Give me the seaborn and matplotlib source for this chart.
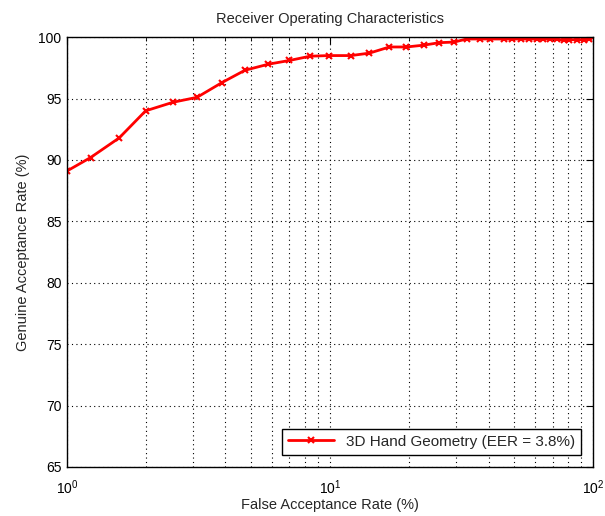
import numpy as np
import pandas as pd
import matplotlib
matplotlib.use("Agg")
import matplotlib.pyplot as plt
import seaborn as sns
from matplotlib.ticker import LogLocator, MultipleLocator

# ROC points
far = [1.0, 1.23, 1.58, 1.99, 2.53, 3.12, 3.88, 4.74, 5.83, 7.0, 8.4, 9.9,
       12.0, 14.1, 16.8, 19.5, 22.7, 26.0, 29.6, 33.0, 37.2, 40.5, 45.7,
       49.0, 53.0, 57.1, 61.0, 64.6, 68.5, 72.5, 77.6, 81.0, 86.5, 92.0, 96.3, 100.0]
gar = [89.1, 90.2, 91.8, 94.0, 94.7, 95.1, 96.3, 97.3, 97.8, 98.1, 98.45, 98.5,
       98.5, 98.7, 99.2, 99.2, 99.35, 99.55, 99.6, 99.85, 99.85, 99.85, 99.85,
       99.85, 99.85, 99.85, 99.85, 99.85, 99.85, 99.85, 99.75, 99.8, 99.8, 99.8, 99.85, 100.0]
series_name = "3D Hand Geometry (EER = 3.8%)"

data = pd.DataFrame({"FAR": far, "GAR": gar})

sns.set_style("white")
plt.rcParams["font.family"] = ["Liberation Sans", "DejaVu Sans"]
plt.rcParams["mathtext.fontset"] = "custom"
plt.rcParams["mathtext.rm"] = "Liberation Sans"

fig = plt.figure(figsize=(6.05, 5.16), dpi=100)
ax = fig.add_axes([0.1107, 0.095, 0.870, 0.833])

sns.lineplot(data=data, x="FAR", y="GAR", ax=ax, color="red", linewidth=2,
             marker="x", markersize=5, markeredgewidth=1.5, markeredgecolor="red",
             label=series_name)

ax.set_xscale("log")
ax.set_xlim(1, 100)
ax.set_ylim(65, 100)
ax.yaxis.set_major_locator(MultipleLocator(5))
ax.xaxis.set_minor_locator(LogLocator(base=10, subs=np.arange(2, 10)))

grid_kw = dict(linestyle=(0, (1, 3)), color="black", linewidth=0.8)
ax.grid(True, which="major", **grid_kw)
ax.grid(True, which="minor", axis="x", **grid_kw)
ax.tick_params(which="both", direction="in", top=True, right=True, labelsize=10,
               colors="black")
ax.tick_params(which="major", length=5)
ax.tick_params(which="minor", length=3)
ax.tick_params(axis="x", which="both", pad=8)
ax.tick_params(axis="y", pad=4)
for s in ax.spines.values():
    s.set_color("black")
    s.set_linewidth(1)

ax.set_title("Receiver Operating Characteristics", fontsize=10.5, pad=10)
ax.set_xlabel("False Acceptance Rate (%)", fontsize=10.5)
ax.set_ylabel("Genuine Acceptance Rate (%)", fontsize=10.5, labelpad=6)
ax.xaxis.set_label_coords(0.5, -0.072)

leg = ax.legend(loc="lower right", fontsize=11, frameon=True, fancybox=False,
                borderaxespad=0.8, handlelength=3)
leg.get_frame().set_edgecolor("black")
leg.get_frame().set_linewidth(1)
leg.get_frame().set_alpha(1)

fig.savefig("out.png", dpi=100, facecolor="white")
